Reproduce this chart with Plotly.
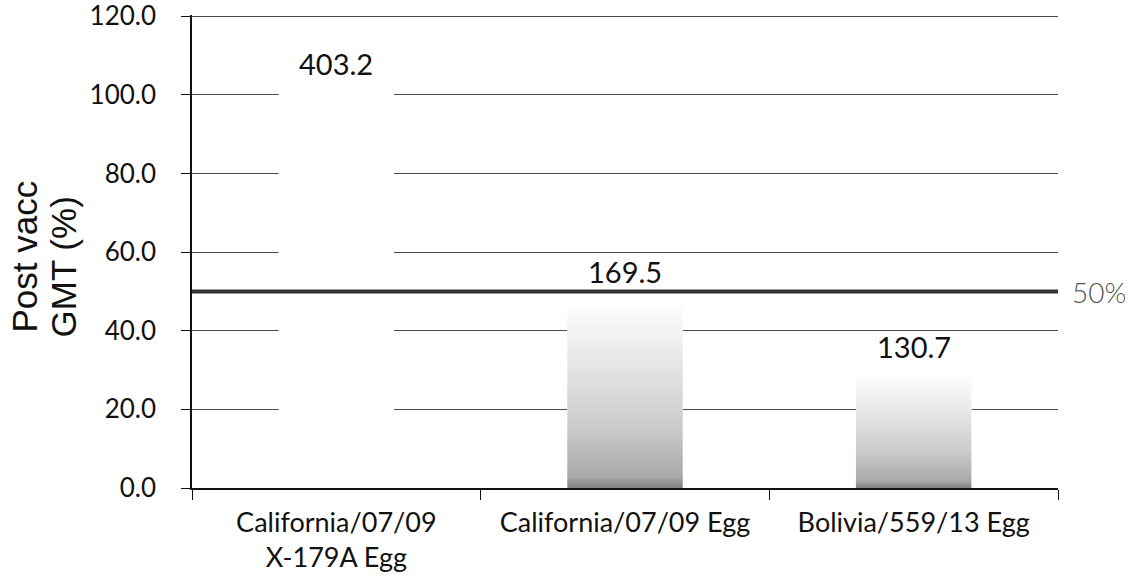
import plotly.graph_objects as go

# ---- data ----
categories = ["California/07/09<br>X-179A Egg", "California/07/09 Egg", "Bolivia/559/13 Egg"]
pct_values = [101, 48, 29]
gmt_labels = ["403.2", "169.5", "130.7"]
shaded = [False, True, True]
threshold = 50
threshold_label = "50%"
y_ticks = [0, 20, 40, 60, 80, 100, 120]
y_title_lines = ["Post vacc", "GMT (%)"]

# ---- style ----
BAR_W = 0.4
GRAD = [[0.0, "#808080"], [0.06, "#a8a8a8"], [0.3, "#c9c9c9"], [0.7, "#e9e9e9"], [1.0, "#ffffff"]]
TICK_FONT = dict(family="Lato, Open Sans, sans-serif", size=27, color="#111111")

idx = list(range(len(categories)))

fig = go.Figure()
fig.add_trace(go.Bar(
    x=idx, y=pct_values, width=BAR_W,
    marker=dict(color="#ffffff", line=dict(width=0)),
    hoverinfo="skip", showlegend=False,
))

half = BAR_W / 2
for i, (v, s) in enumerate(zip(pct_values, shaded)):
    if not s:
        continue
    fig.add_trace(go.Scatter(
        x=[i - half, i + half, i + half, i - half, i - half],
        y=[0, 0, v, v, 0],
        mode="lines", fill="toself", line=dict(width=0, color="rgba(0,0,0,0)"),
        fillgradient=dict(type="vertical", colorscale=GRAD),
        hoverinfo="skip", showlegend=False,
    ))

fig.add_shape(type="line", xref="paper", x0=0, x1=1, yref="y", y0=threshold, y1=threshold,
              line=dict(color="#333333", width=4), layer="above")

annotations = []
for i, (v, lab) in enumerate(zip(pct_values, gmt_labels)):
    annotations.append(dict(x=i, y=v, xref="x", yref="y", text=lab, showarrow=False,
                            yanchor="bottom", xanchor="center", yshift=8,
                            font=dict(family="Lato, Open Sans, sans-serif", size=29, color="#111111")))
annotations.append(dict(x=1, y=threshold, xref="paper", yref="y", text=threshold_label,
                        showarrow=False, xanchor="left", yanchor="middle", xshift=12, yshift=-1,
                        font=dict(family="Lato, Open Sans, sans-serif", size=28, color="#555555", weight=300)))
for line_txt, xs, ys in zip(y_title_lines, [-168, -129], [-5, -16]):
    annotations.append(dict(x=0, y=0.5, xref="paper", yref="paper", text=line_txt, textangle=-90,
                            showarrow=False, xanchor="center", yanchor="middle", xshift=xs, yshift=ys,
                            font=dict(family="Liberation Sans, Arial, sans-serif", size=35, color="#111111")))

fig.update_layout(
    width=1141, height=585, autosize=False,
    margin=dict(l=192, r=83, t=15, b=97, autoexpand=False),
    paper_bgcolor="white", plot_bgcolor="white",
    showlegend=False, bargap=0.6,
    annotations=annotations,
    xaxis=dict(
        range=[-0.5, len(categories) - 0.5],
        tickmode="array", tickvals=idx, ticktext=categories,
        ticks="", showgrid=False, zeroline=False, automargin=False,
        showline=True, linecolor="#111111", linewidth=1.5,
        tickfont=TICK_FONT, ticklabelstandoff=10,
        minor=dict(tickmode="array", tickvals=[k - 0.5 for k in range(len(categories) + 1)],
                   ticks="outside", ticklen=10, tickcolor="#111111", tickwidth=1, showgrid=False),
    ),
    yaxis=dict(
        range=[0, 120.3], tickmode="array", tickvals=y_ticks, tickformat=".1f",
        ticks="outside", ticklen=9, tickcolor="#111111", automargin=False,
        showline=True, linecolor="#111111", linewidth=1.5,
        showgrid=True, gridcolor="#4a4a4a", gridwidth=1, zeroline=False,
        tickfont=dict(family="Lato, Open Sans, sans-serif", size=26, color="#111111"),
        ticklabelstandoff=20, ticklabeloverflow="allow",
    ),
)

fig.write_html("out.html")
